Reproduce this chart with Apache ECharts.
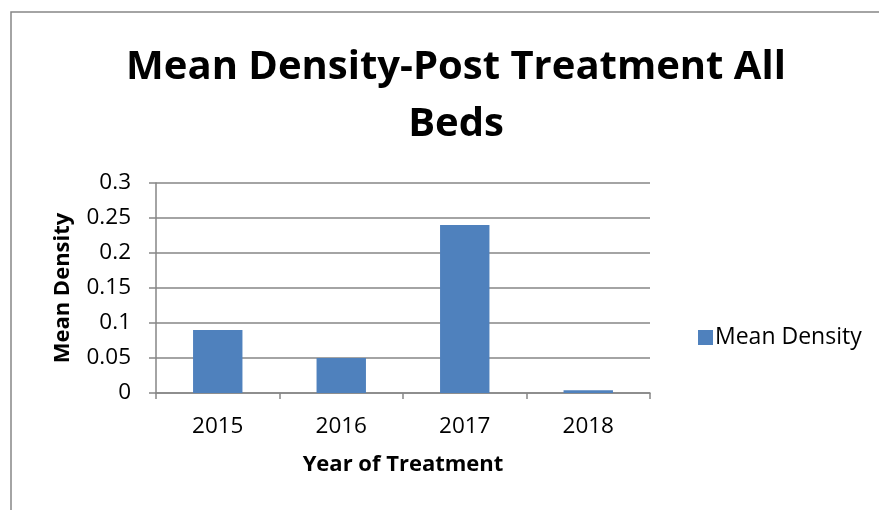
<!DOCTYPE html>
<html>
<head>
<meta charset="utf-8">
<script src="https://cdn.jsdelivr.net/npm/echarts@6/dist/echarts.min.js"></script>
<style>
  html, body { margin: 0; padding: 0; background: #fff; }
  #chart { width: 879px; height: 510px; }
</style>
</head>
<body>
<div id="chart"></div>
<script>
const years = ['2015', '2016', '2017', '2018'];
const meanDensity = [0.09, 0.05, 0.24, 0.004];
const yTicks = [0, 0.05, 0.1, 0.15, 0.2, 0.25, 0.3];

const font = 'Open Sans';
const axisGray = '#868686';

const chart = echarts.init(document.getElementById('chart'));

chart.setOption({
  animation: false,
  textStyle: { fontFamily: font },
  graphic: [{
    type: 'rect',
    shape: { x: 11, y: 12, width: 900, height: 520 },
    style: { fill: 'none', stroke: axisGray, lineWidth: 1.5 }
  }],
  title: {
    text: 'Mean Density-Post Treatment All\nBeds',
    left: 451,
    top: 34,
    textAlign: 'center',
    textStyle: {
      fontFamily: font,
      fontSize: 40,
      fontWeight: 'bold',
      color: '#000',
      lineHeight: 57
    }
  },
  legend: {
    data: ['Mean Density'],
    left: 693,
    top: 321,
    itemWidth: 15,
    itemHeight: 15,
    itemGap: 6,
    icon: 'rect',
    textStyle: { fontFamily: font, fontSize: 23, color: '#000', padding: [0, 0, 0, -3] }
  },
  grid: {
    left: 156,
    right: 229,
    top: 183,
    bottom: 117
  },
  xAxis: {
    type: 'category',
    data: years,
    name: 'Year of Treatment',
    nameLocation: 'middle',
    nameGap: 61,
    nameTextStyle: { fontFamily: font, fontSize: 22, fontWeight: 'bold', color: '#000' },
    axisLine: { lineStyle: { color: axisGray, width: 1.5 } },
    axisTick: { show: true, length: 6, lineStyle: { color: axisGray, width: 1.5 } },
    axisLabel: { fontFamily: font, fontSize: 22.5, color: '#000', margin: 22 }
  },
  yAxis: {
    type: 'value',
    min: 0,
    max: 0.3,
    interval: 0.05,
    name: 'Mean Density',
    nameLocation: 'middle',
    nameGap: 82,
    nameTextStyle: { fontFamily: font, fontSize: 22, fontWeight: 'bold', color: '#000' },
    axisLine: { show: true, lineStyle: { color: axisGray, width: 1.5 } },
    axisTick: { show: true, length: 7, lineStyle: { color: axisGray, width: 1.5 } },
    splitLine: { lineStyle: { color: axisGray, width: 1.5 } },
    axisLabel: {
      fontFamily: font,
      fontSize: 22.5,
      color: '#000',
      margin: 25,
      formatter: v => {
        const t = yTicks.find(x => Math.abs(x - v) < 1e-9);
        return t === undefined ? '' : String(t);
      }
    }
  },
  series: [{
    name: 'Mean Density',
    type: 'bar',
    data: meanDensity,
    barWidth: '40%',
    itemStyle: { color: '#4F81BD' }
  }]
});
</script>
</body>
</html>
